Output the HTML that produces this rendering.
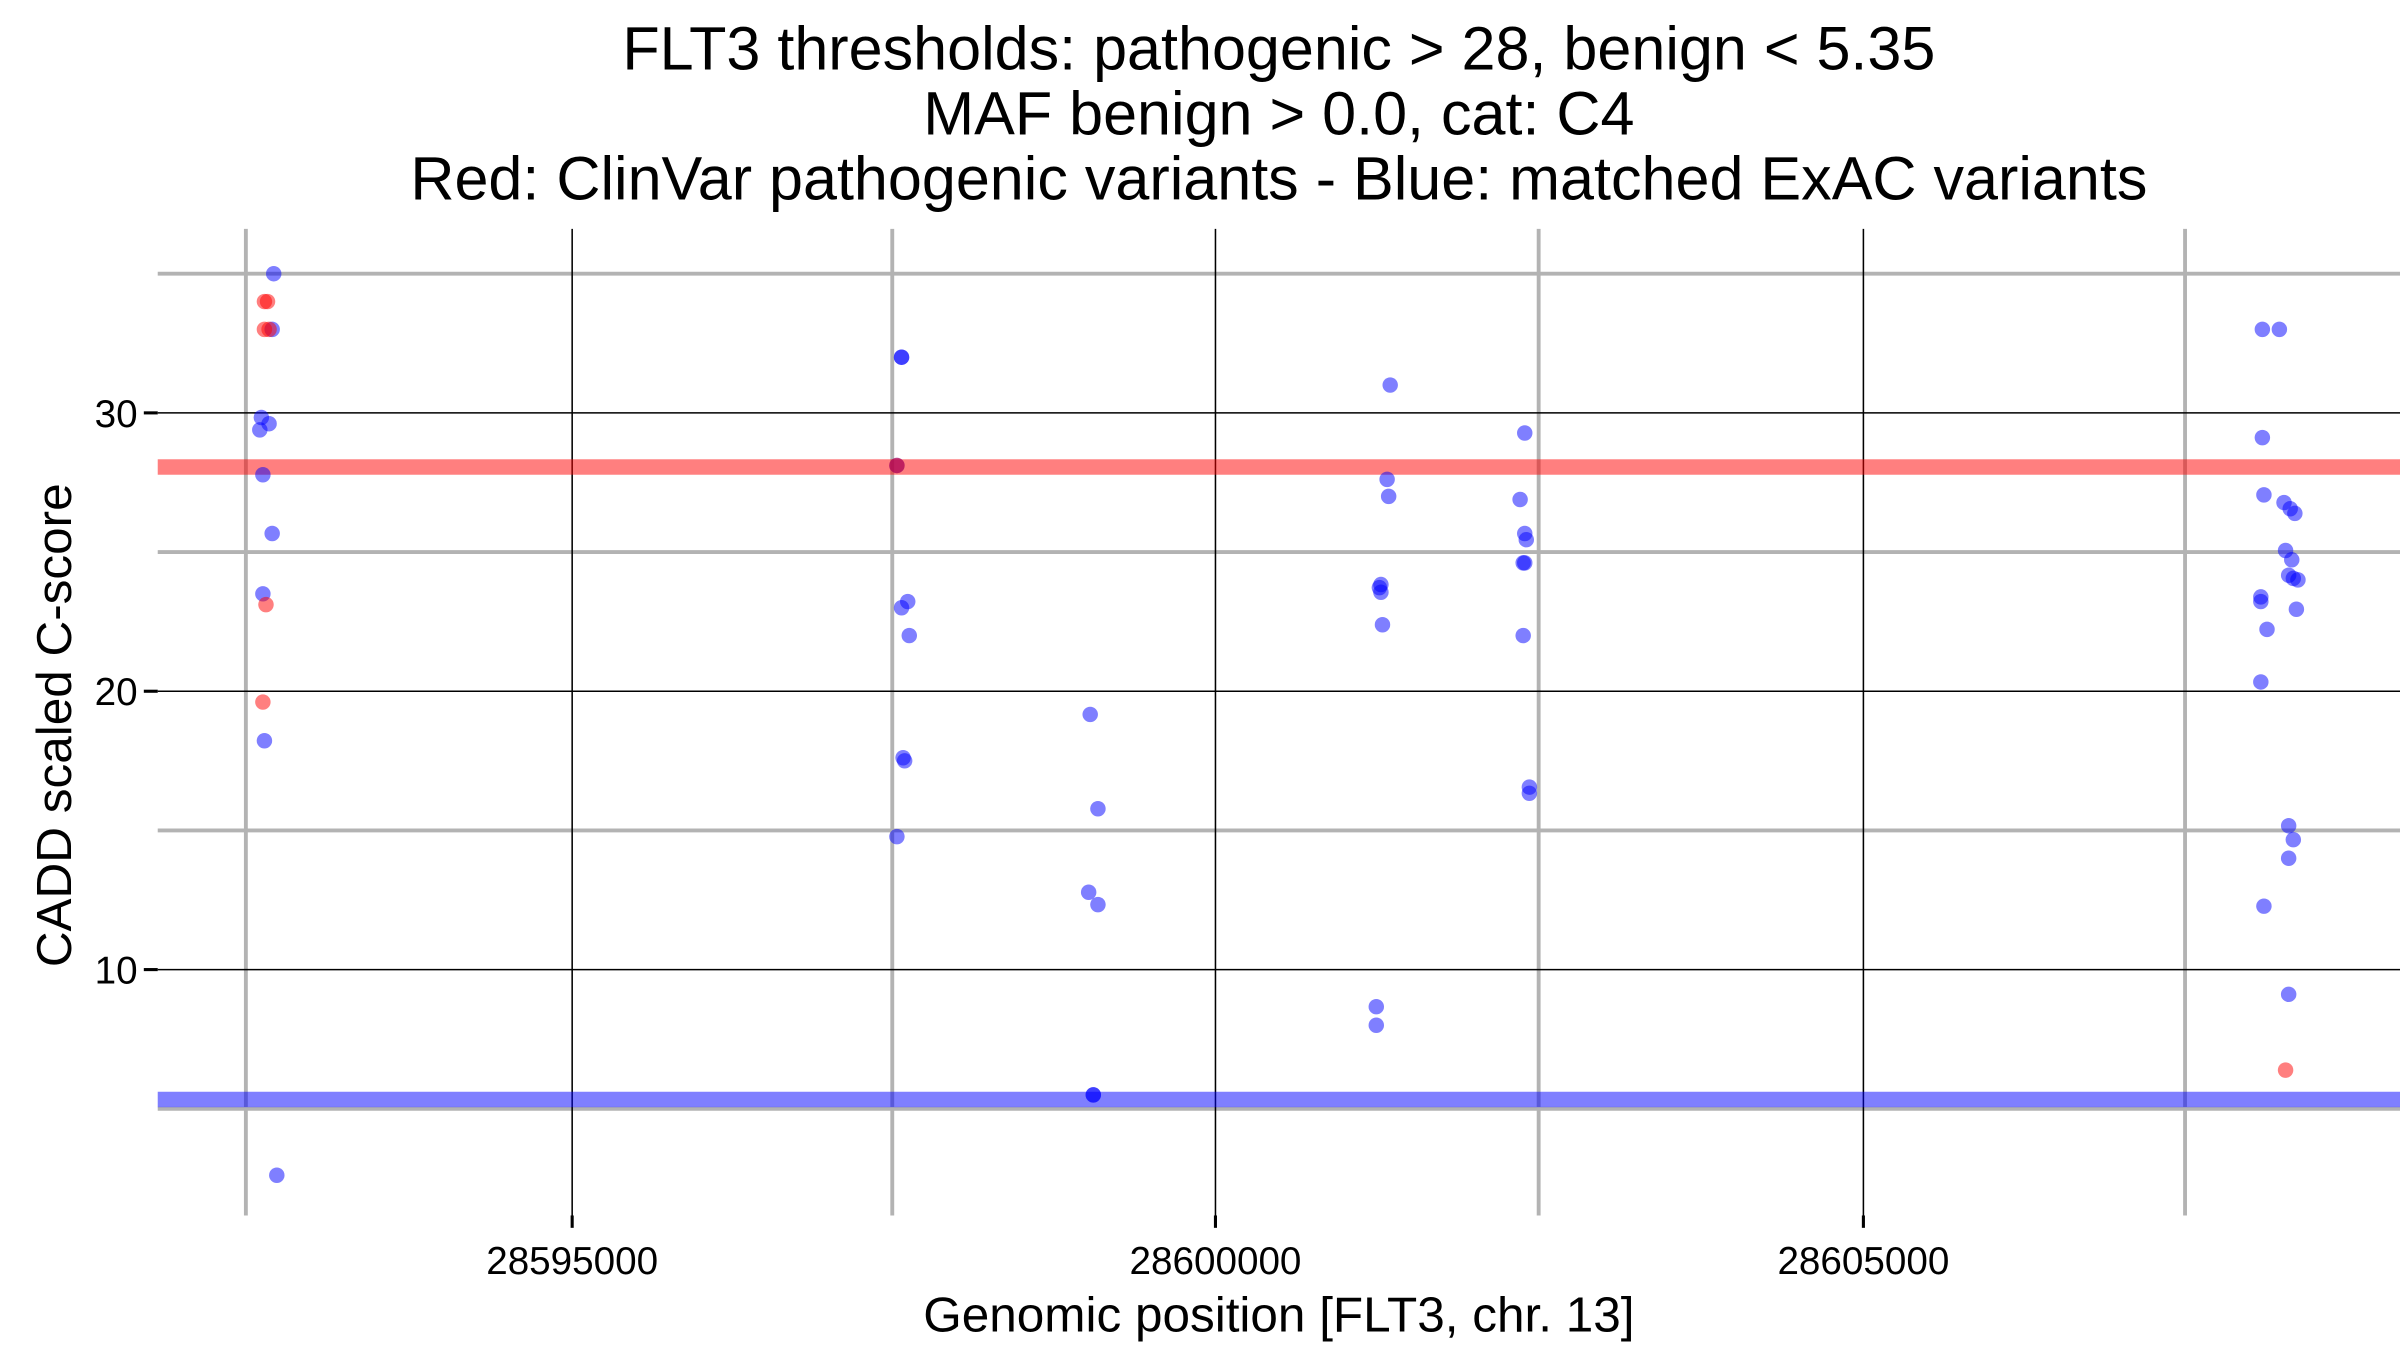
<!DOCTYPE html>
<html><head><meta charset="utf-8"><style>html,body{margin:0;padding:0;background:#fff}svg{display:block}</style></head><body>
<svg width="2400" height="1350" viewBox="0 0 1552 873" preserveAspectRatio="none" xmlns="http://www.w3.org/2000/svg" font-family="Liberation Sans, sans-serif">
<rect width="1552" height="873" fill="#fff"/>
<g stroke="#b3b3b3" stroke-width="2.5">
<line x1="159" y1="148" x2="159" y2="786"/><line x1="577" y1="148" x2="577" y2="786"/><line x1="995" y1="148" x2="995" y2="786"/><line x1="1413" y1="148" x2="1413" y2="786"/>
<line x1="102" y1="177" x2="1552" y2="177"/><line x1="102" y1="357" x2="1552" y2="357"/><line x1="102" y1="537" x2="1552" y2="537"/><line x1="102" y1="717" x2="1552" y2="717"/>
</g>
<g stroke="#000" stroke-width="1">
<line x1="370" y1="148" x2="370" y2="786"/><line x1="786" y1="148" x2="786" y2="786"/><line x1="1205" y1="148" x2="1205" y2="786"/>
<line x1="102" y1="267" x2="1552" y2="267"/><line x1="102" y1="447" x2="1552" y2="447"/><line x1="102" y1="627" x2="1552" y2="627"/>
</g>
<g stroke="#000" stroke-width="2">
<line x1="93" y1="267" x2="102" y2="267"/><line x1="93" y1="447" x2="102" y2="447"/><line x1="93" y1="627" x2="102" y2="627"/>
<line x1="370" y1="786" x2="370" y2="794"/><line x1="786" y1="786" x2="786" y2="794"/><line x1="1205" y1="786" x2="1205" y2="794"/>
</g>
<rect x="102" y="297" width="1450" height="10" fill="rgba(255,0,0,0.5)"/>
<rect x="102" y="706" width="1450" height="10" fill="rgba(0,0,255,0.5)"/>
<g fill="#000" font-size="25">
<text x="89" y="276" text-anchor="end">30</text><text x="89" y="456" text-anchor="end">20</text><text x="89" y="636" text-anchor="end">10</text>
<text x="370" y="824" text-anchor="middle">28595000</text><text x="786" y="824" text-anchor="middle">28600000</text><text x="1205" y="824" text-anchor="middle">28605000</text>
</g>
<text x="827" y="861" font-size="32" text-anchor="middle">Genomic position [FLT3, chr. 13]</text>
<text transform="translate(46,469) rotate(-90)" font-size="32" text-anchor="middle">CADD scaled C-score</text>
<g font-size="39.5" text-anchor="middle">
<text x="827" y="45">FLT3 thresholds: pathogenic &gt; 28, benign &lt; 5.35</text>
<text x="827" y="87">MAF benign &gt; 0.0, cat: C4</text>
<text x="827" y="129">Red: ClinVar pathogenic variants - Blue: matched ExAC variants</text>
</g>
<g fill="rgba(0,0,255,0.5)">
<circle cx="177" cy="177" r="5"/><circle cx="176" cy="213" r="5"/><circle cx="169" cy="270" r="5"/><circle cx="168" cy="278" r="5"/><circle cx="174" cy="274" r="5"/><circle cx="170" cy="307" r="5"/><circle cx="176" cy="345" r="5"/><circle cx="170" cy="384" r="5"/><circle cx="171" cy="479" r="5"/><circle cx="179" cy="760" r="5"/>
<circle cx="583" cy="231" r="5"/><circle cx="583" cy="231" r="5"/><circle cx="580" cy="301" r="5"/><circle cx="583" cy="393" r="5"/><circle cx="587" cy="389" r="5"/><circle cx="588" cy="411" r="5"/><circle cx="584" cy="490" r="5"/><circle cx="585" cy="492" r="5"/><circle cx="580" cy="541" r="5"/>
<circle cx="705" cy="462" r="5"/><circle cx="710" cy="523" r="5"/><circle cx="704" cy="577" r="5"/><circle cx="710" cy="585" r="5"/><circle cx="707" cy="708" r="5"/><circle cx="707" cy="708" r="5"/>
<circle cx="899" cy="249" r="5"/><circle cx="897" cy="310" r="5"/><circle cx="898" cy="321" r="5"/><circle cx="893" cy="378" r="5"/><circle cx="893" cy="383" r="5"/><circle cx="892" cy="380" r="5"/><circle cx="894" cy="404" r="5"/><circle cx="890" cy="651" r="5"/><circle cx="890" cy="663" r="5"/>
<circle cx="986" cy="280" r="5"/><circle cx="983" cy="323" r="5"/><circle cx="986" cy="345" r="5"/><circle cx="987" cy="349" r="5"/><circle cx="985" cy="364" r="5"/><circle cx="986" cy="364" r="5"/><circle cx="985" cy="411" r="5"/><circle cx="989" cy="509" r="5"/><circle cx="989" cy="513" r="5"/>
<circle cx="1463" cy="213" r="5"/><circle cx="1474" cy="213" r="5"/><circle cx="1463" cy="283" r="5"/><circle cx="1464" cy="320" r="5"/><circle cx="1477" cy="325" r="5"/><circle cx="1481" cy="329" r="5"/><circle cx="1484" cy="332" r="5"/><circle cx="1478" cy="356" r="5"/><circle cx="1482" cy="362" r="5"/><circle cx="1480" cy="372" r="5"/><circle cx="1483" cy="374" r="5"/><circle cx="1486" cy="375" r="5"/><circle cx="1462" cy="386" r="5"/><circle cx="1462" cy="389" r="5"/><circle cx="1466" cy="407" r="5"/><circle cx="1485" cy="394" r="5"/><circle cx="1462" cy="441" r="5"/><circle cx="1480" cy="534" r="5"/><circle cx="1483" cy="543" r="5"/><circle cx="1480" cy="555" r="5"/><circle cx="1464" cy="586" r="5"/><circle cx="1480" cy="643" r="5"/>
</g>
<g fill="rgba(255,0,0,0.5)">
<circle cx="171" cy="195" r="5"/><circle cx="173" cy="195" r="5"/><circle cx="171" cy="213" r="5"/><circle cx="174" cy="213" r="5"/><circle cx="172" cy="391" r="5"/><circle cx="170" cy="454" r="5"/><circle cx="580" cy="301" r="5"/><circle cx="1478" cy="692" r="5"/>
</g>
</svg>
</body></html>
